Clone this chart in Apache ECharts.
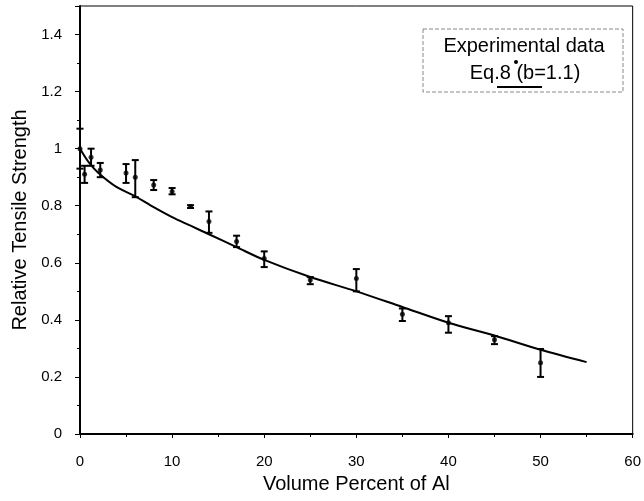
<!DOCTYPE html>
<html>
<head>
  <meta charset="UTF-8" />
  <title>Relative Tensile Strength vs Volume Percent of Al</title>
  <script src="https://cdn.jsdelivr.net/npm/echarts@6.0.0/dist/echarts.min.js"></script>
  <style>
    body { margin: 0; background: #fff; overflow: hidden; }
    #main { width: 644px; height: 501px; }
  </style>
</head>
<body>
  <div id="main"></div>
  <script>
    // experimental points (volume % Al, relative strength, error bar low / high)
    const expX = [0, 0.5, 1.2, 2.2, 5, 6, 8, 10, 12, 14, 17, 20, 25, 30, 35, 40, 45, 50];
    const expY = [1.0, 0.91, 0.97, 0.925, 0.915, 0.90, 0.873, 0.85, 0.797, 0.745, 0.675, 0.615, 0.54, 0.545, 0.42, 0.39, 0.33, 0.25];
    const errLo = [0.93, 0.88, 0.94, 0.90, 0.88, 0.83, 0.855, 0.84, 0.792, 0.705, 0.655, 0.585, 0.525, 0.50, 0.396, 0.355, 0.315, 0.20];
    const errHi = [1.07, 0.94, 1.00, 0.95, 0.946, 0.96, 0.89, 0.862, 0.802, 0.78, 0.695, 0.64, 0.55, 0.578, 0.44, 0.413, 0.343, 0.298];

    // Eq.8 (b=1.1) curve
    const eqX = [0, 1, 2, 4, 6, 8, 10, 12, 14, 17, 20, 25, 30, 35, 40, 45, 50, 55];
    const eqY = [1.0, 0.95, 0.915, 0.865, 0.833, 0.795, 0.76, 0.73, 0.70, 0.655, 0.61, 0.55, 0.50, 0.445, 0.39, 0.345, 0.295, 0.252];

    const chart = echarts.init(document.getElementById('main'));
    const font = '"Liberation Sans", Arial, sans-serif';

    const option = {
      backgroundColor: '#fff',
      animation: false,
      grid: {
        left: 80, right: 9, top: 6, bottom: 67,
        show: true, borderColor: '#000', borderWidth: 1
      },
      xAxis: {
        type: 'value',
        min: 0, max: 60, interval: 10,
        name: 'Volume Percent of Al',
        nameLocation: 'middle',
        nameGap: 40,
        nameTextStyle: { fontFamily: font, fontSize: 20, color: '#000' },
        axisLine: { lineStyle: { color: '#000', width: 2 } },
        axisTick: { length: 4, lineStyle: { color: '#000' } },
        minorTick: { show: true, splitNumber: 2, length: 3, lineStyle: { color: '#000' } },
        axisLabel: { margin: 20, fontFamily: font, fontSize: 15, color: '#000' },
        splitLine: { show: false }
      },
      yAxis: {
        type: 'value',
        min: 0, max: 1.5, interval: 0.2,
        name: 'Relative Tensile Strength',
        nameLocation: 'middle',
        nameGap: 35,
        nameTextStyle: { fontFamily: font, fontSize: 20, color: '#000' },
        axisLine: { lineStyle: { color: '#000', width: 2 } },
        axisTick: { length: 5, lineStyle: { color: '#000' } },
        minorTick: { show: true, splitNumber: 2, length: 3, lineStyle: { color: '#000' } },
        axisLabel: {
          margin: 18, fontFamily: font, fontSize: 15, color: '#000',
          formatter: v => (v > 1.45 ? '' : String(+v.toFixed(1)))
        },
        splitLine: { show: false }
      },
      graphic: [
        {
          type: 'rect',
          shape: { x: 423, y: 29, width: 200, height: 63 },
          style: { fill: 'none', stroke: '#888', lineWidth: 1, lineDash: [4, 2] }
        },
        {
          type: 'text', x: 524, y: 46,
          style: { text: 'Experimental data', font: '20px ' + font, fill: '#000', align: 'center', verticalAlign: 'middle' }
        },
        {
          type: 'circle', shape: { cx: 516, cy: 62, r: 2 }, style: { fill: '#000' }
        },
        {
          type: 'text', x: 525, y: 73,
          style: { text: 'Eq.8 (b=1.1)', font: '20px ' + font, fill: '#000', align: 'center', verticalAlign: 'middle' }
        },
        {
          type: 'line', shape: { x1: 497, y1: 87, x2: 542, y2: 87 }, style: { stroke: '#000', lineWidth: 2 }
        }
      ],
      series: [
        {
          name: 'Eq.8 (b=1.1)',
          type: 'line',
          data: eqX.map((x, i) => [x, eqY[i]]),
          smooth: 0.3,
          symbol: 'none',
          lineStyle: { color: '#000', width: 2 },
          z: 3
        },
        {
          name: 'error',
          type: 'custom',
          data: expX.map((x, i) => [x, errLo[i], errHi[i]]),
          renderItem: function (params, api) {
            const x = api.value(0);
            const lo = api.coord([x, api.value(1)]);
            const hi = api.coord([x, api.value(2)]);
            const w = 3.5;
            const st = { stroke: '#000', lineWidth: 2 };
            return {
              type: 'group',
              children: [
                { type: 'line', shape: { x1: lo[0], y1: lo[1], x2: hi[0], y2: hi[1] }, style: st },
                { type: 'line', shape: { x1: lo[0] - w, y1: lo[1], x2: lo[0] + w, y2: lo[1] }, style: st },
                { type: 'line', shape: { x1: hi[0] - w, y1: hi[1], x2: hi[0] + w, y2: hi[1] }, style: st }
              ]
            };
          },
          z: 4
        },
        {
          name: 'Experimental data',
          type: 'scatter',
          data: expX.map((x, i) => [x, expY[i]]),
          symbol: 'circle',
          symbolSize: 5,
          itemStyle: { color: '#000' },
          z: 5
        }
      ]
    };

    chart.setOption(option);
  </script>
</body>
</html>
